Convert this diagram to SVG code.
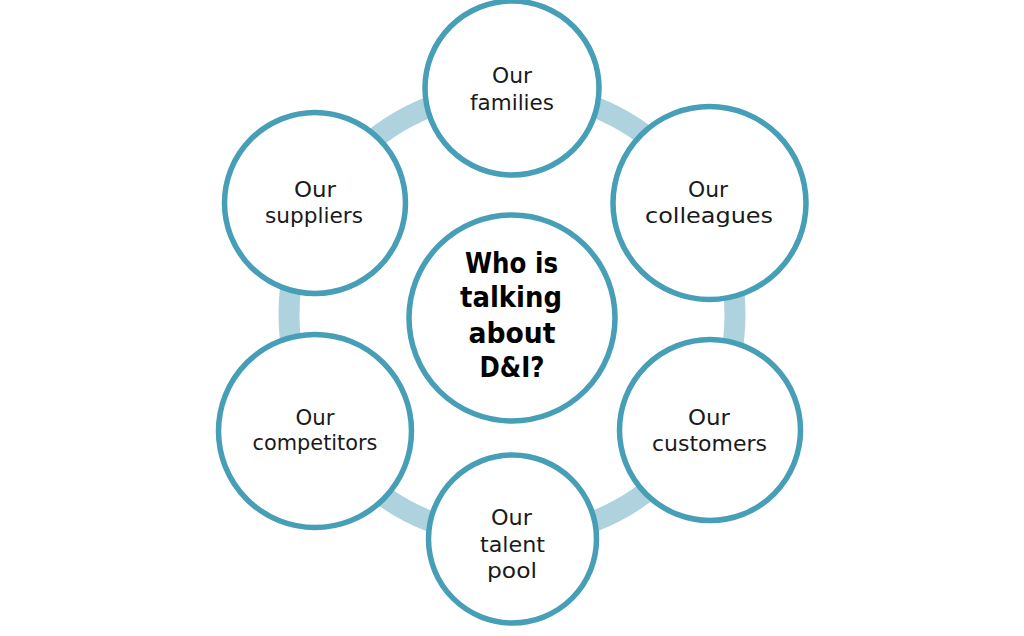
<svg xmlns="http://www.w3.org/2000/svg" width="1024" height="636" viewBox="0 0 1024 636">
<style>
.node{fill:#ffffff;stroke:#469EB7;stroke-width:5.5}
.ring{fill:none;stroke:#AED2DE;stroke-width:21}
.t{font-family:"DejaVu Sans","Liberation Sans",sans-serif;font-size:22px;fill:#1a1a1a;text-anchor:middle}
.c{font-family:"DejaVu Sans","Liberation Sans",sans-serif;font-size:28px;font-weight:bold;fill:#000000;text-anchor:middle}
</style>
<rect width="1024" height="636" fill="#ffffff"/>
<g id="connectors">
<circle class="ring" cx="512" cy="314" r="223"/>
</g>
<g id="node-families">
<circle class="node" cx="512" cy="88" r="87"/>
<text class="t" x="512" y="83" textLength="40" lengthAdjust="spacingAndGlyphs">Our</text>
<text class="t" x="512" y="110" textLength="84" lengthAdjust="spacingAndGlyphs">families</text>
</g>
<g id="node-suppliers">
<circle class="node" cx="315" cy="203" r="90.5"/>
<text class="t" x="315" y="197" textLength="42" lengthAdjust="spacingAndGlyphs">Our</text>
<text class="t" x="314" y="223" textLength="98" lengthAdjust="spacingAndGlyphs">suppliers</text>
</g>
<g id="node-colleagues">
<circle class="node" cx="709.5" cy="203" r="96.5"/>
<text class="t" x="708" y="197" textLength="40" lengthAdjust="spacingAndGlyphs">Our</text>
<text class="t" x="709" y="223" textLength="128" lengthAdjust="spacingAndGlyphs">colleagues</text>
</g>
<g id="node-competitors">
<circle class="node" cx="315" cy="431" r="96.5"/>
<text class="t" x="315" y="425" textLength="39" lengthAdjust="spacingAndGlyphs">Our</text>
<text class="t" x="315" y="450" textLength="125" lengthAdjust="spacingAndGlyphs">competitors</text>
</g>
<g id="node-customers">
<circle class="node" cx="710" cy="430" r="90.5"/>
<text class="t" x="709" y="425" textLength="42" lengthAdjust="spacingAndGlyphs">Our</text>
<text class="t" x="709.5" y="451" textLength="115" lengthAdjust="spacingAndGlyphs">customers</text>
</g>
<g id="node-talent">
<circle class="node" cx="512.5" cy="539" r="84"/>
<text class="t" x="511.5" y="525" textLength="41" lengthAdjust="spacingAndGlyphs">Our</text>
<text class="t" x="512.5" y="552" textLength="65" lengthAdjust="spacingAndGlyphs">talent</text>
<text class="t" x="512" y="578" textLength="50" lengthAdjust="spacingAndGlyphs">pool</text>
</g>
<g id="node-center">
<circle class="node" cx="512" cy="318" r="103"/>
<text class="c" x="511.5" y="273" textLength="93" lengthAdjust="spacingAndGlyphs">Who is</text>
<text class="c" x="511" y="307" textLength="102" lengthAdjust="spacingAndGlyphs">talking</text>
<text class="c" x="512" y="343" textLength="87" lengthAdjust="spacingAndGlyphs">about</text>
<text class="c" x="512" y="377" textLength="65" lengthAdjust="spacingAndGlyphs">D&amp;I?</text>
</g>
</svg>
